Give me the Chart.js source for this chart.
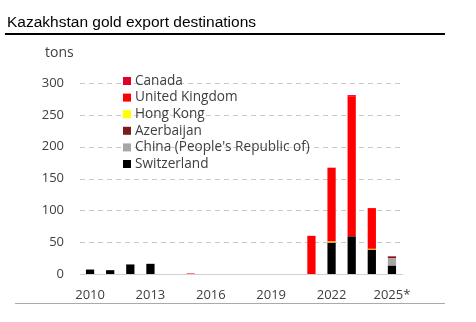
<!DOCTYPE html>
<html><head><meta charset="utf-8">
<script src="https://cdn.jsdelivr.net/npm/chart.js@4"></script>
<style>
html,body{margin:0;padding:0;background:#fff;}
#wrap{position:relative;width:476px;height:322px;overflow:hidden;}
#title{position:absolute;left:7px;top:13px;font-family:"Liberation Sans",Arial,sans-serif;font-size:15.5px;color:#000;white-space:nowrap;}
#tl{position:absolute;left:5px;top:33px;width:440px;height:2px;background:#000;}
#bl{position:absolute;left:15px;top:303px;width:430px;height:1px;background:#aaa;}
#tons{position:absolute;left:45px;top:42px;font-family:"Open Sans",sans-serif;font-size:14px;color:#404040;}
canvas{position:absolute;left:0;top:0;}
</style></head>
<body><div id="wrap">
<canvas id="c" width="476" height="322"></canvas>
<div id="title">Kazakhstan gold export destinations</div>
<div id="tl"></div>
<div id="tons">tons</div>
<div id="bl"></div>
</div>
<script>
const years = ["2010","2011","2012","2013","2014","2015","2016","2017","2018","2019","2020","2021","2022","2023","2024","2025*"];
const switzerland = [7,6,15,16,0,0,0,0,0,0,0,0,49,59,38,13];
const china       = [0,0,0,0,0,0,0,0,0,0,0,0,0,0,0,12];
const azerbaijan  = [0,0,0,0,0,0,0,0,0,0,0,0,0,0,0,2];
const hongKong    = [0,0,0,0,0,0,0,0,0,0,0,0,2,0,1.5,0];
const unitedKingdom=[0,0,0,0,0,0.8,0,0,0,0,0,60,116,220,64,0];
const canada      = [0,0,0,0,0,0,0,0,0,0,0,0,0,2,0,1];
const yTicks = [0,50,100,150,200,250,300];

const series = [
  {label:"Switzerland", data:switzerland, color:"#000000"},
  {label:"China (People's Republic of)", data:china, color:"#A6A6A6"},
  {label:"Azerbaijan", data:azerbaijan, color:"#7B1C1C"},
  {label:"Hong Kong", data:hongKong, color:"#FFD700"},
  {label:"United Kingdom", data:unitedKingdom, color:"#FF0000"},
  {label:"Canada", data:canada, color:"#E0002A"}
];
const legendColors = {"Hong Kong":"#FFFF00"};

const gridPlugin = {
  id:'dashgrid',
  beforeDatasetsDraw(chart){
    const ctx = chart.ctx, y = chart.scales.y, a = chart.chartArea;
    ctx.save();
    ctx.strokeStyle = '#c8c8c8'; ctx.lineWidth = 1; ctx.setLineDash([5,4]);
    yTicks.forEach(v=>{
      if(v===0) return;
      const py = Math.round(y.getPixelForValue(v))+0.5;
      ctx.beginPath(); ctx.moveTo(a.left,py); ctx.lineTo(a.right,py); ctx.stroke();
    });
    ctx.restore();
  }
};

const legendPlugin = {
  id:'inlegend',
  afterDraw(chart){
    const ctx = chart.ctx;
    ctx.save();
    ctx.font = '13.6px "Open Sans", sans-serif';
    ctx.textBaseline = 'middle';
    const items = chart.data.datasets.slice().reverse();
    const x0 = 123, y0 = 81, dy = 16.6;
    items.forEach((d,i)=>{
      const y = y0 + i*dy;
      ctx.fillStyle = legendColors[d.label] || d.backgroundColor;
      ctx.fillRect(x0, y-4, 8, 8);
      ctx.fillStyle = '#404040';
      ctx.fillText(d.label, x0+12, y);
    });
    ctx.restore();
  }
};

new Chart(document.getElementById('c'), {
  type:'bar',
  data:{
    labels:years,
    datasets:series.map(s=>({label:s.label,data:s.data,backgroundColor:s.color,borderWidth:0,barPercentage:0.41,categoryPercentage:1}))
  },
  options:{
    responsive:false,animation:false,
    layout:{padding:{left:0,right:74,top:83,bottom:14}},
    plugins:{legend:{display:false},tooltip:{enabled:false}},
    scales:{
      x:{stacked:true,
        grid:{display:false,drawTicks:false},
        border:{display:true,color:'#d0d0d0',width:1},
        ticks:{autoSkip:false,maxRotation:0,padding:13,color:'#404040',font:{family:'"Open Sans", sans-serif',size:13},
          callback:function(v,i){return i%3===0?years[i]:'';}},
        afterFit(a){a.height=34;}
      },
      y:{stacked:true,min:0,max:300,
        afterBuildTicks(a){a.ticks=yTicks.map(v=>({value:v}));},
        grid:{display:false,drawTicks:false},
        border:{display:false},
        ticks:{padding:16,color:'#404040',font:{family:'"Open Sans", sans-serif',size:13}},
        afterFit(a){a.width=80;}
      }
    }
  },
  plugins:[gridPlugin,legendPlugin]
});
</script>
</body></html>
